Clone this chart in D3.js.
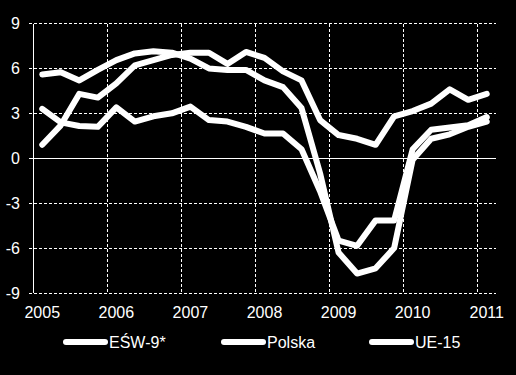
<!DOCTYPE html>
<html>
<head>
<meta charset="utf-8">
<script src="https://cdn.jsdelivr.net/npm/d3@7"></script>
<style>
  body { margin: 0; background: #000; }
  text { font-family: "Liberation Sans", Arial, sans-serif; fill: #fff; }
</style>
</head>
<body>
<script>
// quarters 2005Q1 .. 2011Q1
var quarters = [];
for (var yr = 2005; yr <= 2011; yr++) {
  for (var q = 1; q <= 4; q++) {
    if (yr == 2011 && q > 1) break;
    quarters.push(yr + " Q" + q);
  }
}
var yearLabels = ["2005", "2006", "2007", "2008", "2009", "2010", "2011"];
var yTicks = [-9, -6, -3, 0, 3, 6, 9];
var seriesNames = ["EŚW-9*", "Polska", "UE-15"];

var esw9 = [5.6, 5.75, 5.2, 5.9, 6.55, 7.0, 7.15, 7.05, 6.65, 6.0, 5.9, 5.9, 5.2, 4.75, 3.35,
            -1.0, -6.3, -7.7, -7.35, -6.0, -0.1, 1.3, 1.6, 2.1, 2.45];
var polska = [0.9, 2.2, 4.3, 4.05, 5.0, 6.2, 6.55, 6.9, 7.05, 7.05, 6.3, 7.1, 6.7, 5.8, 5.2,
              2.55, 1.55, 1.3, 0.9, 2.8, 3.15, 3.65, 4.6, 3.9, 4.3];
var ue15 = [3.3, 2.4, 2.15, 2.1, 3.4, 2.45, 2.8, 3.0, 3.45, 2.55, 2.45, 2.1, 1.65, 1.65, 0.6,
            -2.2, -5.5, -5.85, -4.15, -4.15, 0.6, 1.9, 2.05, 2.2, 2.75];

var w = 516, h = 375;
var pLeft = 33, pRight = 496, pTop = 23.5, pBottom = 293;

var svg = d3.select("body").append("svg")
  .attr("width", w)
  .attr("height", h);

svg.append("rect").attr("width", w).attr("height", h).attr("fill", "#000");

var x = d3.scalePoint().domain(quarters).range([pLeft, pRight]).padding(0.5);
var step = x.step();
var y = d3.scaleLinear().domain([-9, 9]).range([pBottom, pTop]);

// horizontal grid
svg.selectAll(".hgrid")
  .data(yTicks)
  .enter()
  .append("line")
    .attr("x1", pLeft - 4)
    .attr("x2", pRight)
    .attr("y1", function(d) { return y(d); })
    .attr("y2", function(d) { return y(d); })
    .attr("stroke", "#fff")
    .attr("stroke-width", 1)
    .attr("stroke-dasharray", function(d) { return d == 0 ? null : "3,2"; })
    .attr("shape-rendering", "crispEdges");

// vertical grid at year boundaries
var yearStarts = quarters.filter(function(d) { return d.slice(-2) == "Q1"; });
svg.selectAll(".vgrid")
  .data(yearStarts)
  .enter()
  .append("line")
    .attr("x1", function(d) { return x(d) - step / 2; })
    .attr("x2", function(d) { return x(d) - step / 2; })
    .attr("y1", pTop)
    .attr("y2", pBottom)
    .attr("stroke", "#fff")
    .attr("stroke-width", 1)
    .attr("stroke-dasharray", function(d, i) { return i == 0 ? null : "3,2"; })
    .attr("shape-rendering", "crispEdges");

// y labels
svg.selectAll(".ylab")
  .data(yTicks)
  .enter()
  .append("text")
    .attr("x", 20)
    .attr("y", function(d) { return y(d); })
    .attr("dy", "0.36em")
    .attr("text-anchor", "end")
    .style("font-size", "16px")
    .text(function(d) { return d; });

// x labels
svg.selectAll(".xlab")
  .data(yearStarts)
  .enter()
  .append("text")
    .attr("x", function(d) { return x(d); })
    .attr("y", 318)
    .attr("text-anchor", "middle")
    .style("font-size", "16px")
    .text(function(d, i) { return yearLabels[i]; });

var line = d3.line()
  .x(function(d, i) { return x(quarters[i]); })
  .y(function(d) { return y(d); });

var allSeries = [esw9, polska, ue15];
svg.selectAll(".series")
  .data(allSeries)
  .enter()
  .append("path")
    .attr("d", line)
    .attr("fill", "none")
    .attr("stroke", "#fff")
    .attr("stroke-width", 6)
    .attr("stroke-linejoin", "round")
    .attr("stroke-linecap", "round");

// legend
var legendX = [66, 224, 372];
var leg = svg.selectAll(".leg")
  .data(seriesNames)
  .enter()
  .append("g")
    .attr("transform", function(d, i) { return "translate(" + legendX[i] + ",342)"; });

leg.append("line")
  .attr("x1", 0).attr("x2", 39)
  .attr("stroke", "#fff")
  .attr("stroke-width", 6)
  .attr("stroke-linecap", "round");

leg.append("text")
  .attr("x", 43)
  .attr("dy", "0.36em")
  .style("font-size", "16px")
  .text(function(d) { return d; });
</script>
</body>
</html>
